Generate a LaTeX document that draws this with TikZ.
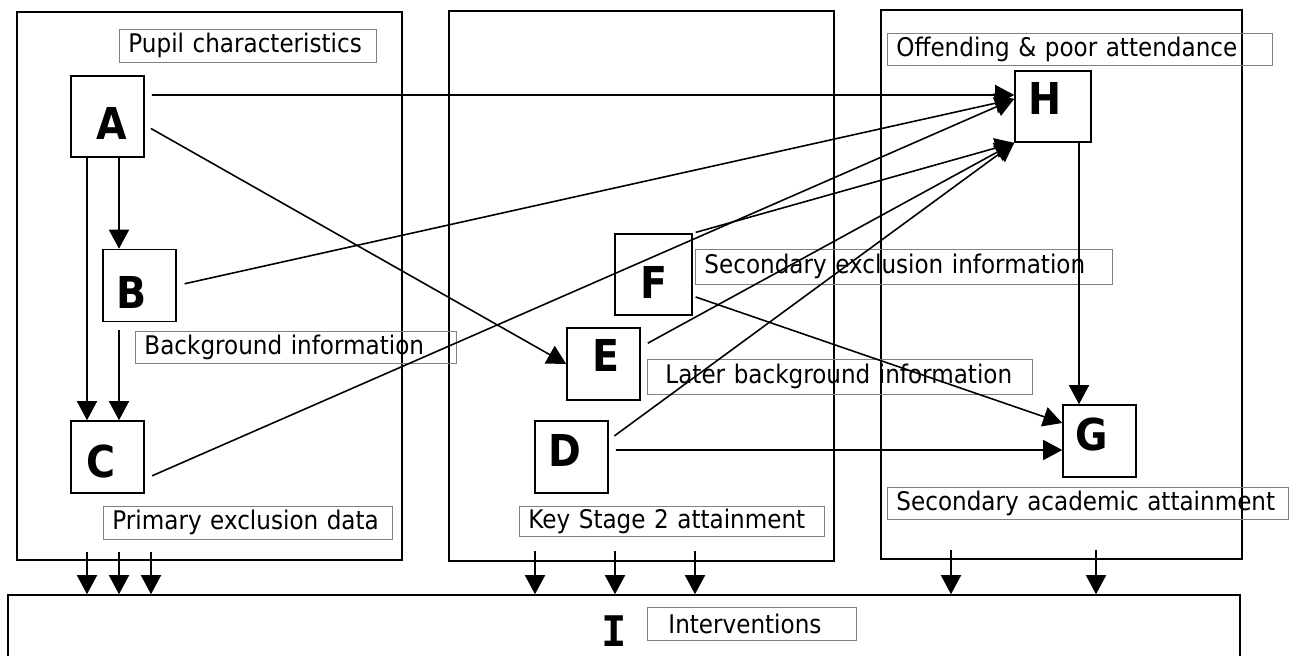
\documentclass[tikz,border=0pt]{standalone}
\usepackage{fontspec}
\setmainfont{DejaVu Sans}[FakeStretch=0.9]
\newfontfamily\slabfont{DejaVu Sans Mono}
\usetikzlibrary{arrows.meta}

% letter nudged inside its box: twice the x offset, then the raise
\newcommand{\letterat}[3]{\hspace*{#1}\raisebox{#2}[\height][\depth]{#3}}

\begin{document}
\begin{tikzpicture}[
  >={Triangle[length=3.8mm, width=4mm]},
  panel/.style={draw, line width=0.9pt, inner sep=0pt},
  var/.style={draw, line width=0.9pt, inner sep=0pt, minimum width=1.46cm, minimum height=1.44cm, font=\fontsize{25}{25}\selectfont\bfseries},
  tag/.style={draw=gray, line width=0.5pt, anchor=west, inner xsep=0.18cm, inner ysep=0pt, align=left, font=\fontsize{14.6}{17}\selectfont},
  link/.style={->, line width=0.9pt}
]
  \useasboundingbox (0,0) rectangle (25.84,-13.10);

  % the three stages and the interventions
  \node[panel, minimum width=7.70cm, minimum height=10.96cm] (pupil) at (4.19,-5.72) {};
  \node[panel, minimum width=7.70cm, minimum height=11.00cm] (ks2) at (12.83,-5.72) {};
  \node[panel, minimum width=7.22cm, minimum height=10.98cm] (sec) at (21.23,-5.69) {};
  \node[panel, minimum width=24.64cm, minimum height=2.50cm] (I) at (12.48,-13.15) {};
  \node[font=\slabfont\bfseries\fontsize{24}{24}\selectfont, inner sep=0pt] (Iname) at (12.28,-12.62) {I};

  % variables
  \node[var, minimum height=1.62cm] (A) at (2.15,-2.33) {\letterat{0.18cm}{-0.13cm}{A}};
  \node[var] (B) at (2.79,-5.71) {\letterat{-0.32cm}{-0.13cm}{B}};
  \node[var] (C) at (2.15,-9.14) {\letterat{-0.26cm}{-0.09cm}{C}};
  \node[var] (D) at (11.43,-9.14) {\letterat{-0.28cm}{0.14cm}{D}};
  \node[var] (E) at (12.07,-7.28) {\letterat{0.10cm}{0.17cm}{E}};
  \node[var, minimum width=1.54cm, minimum height=1.62cm] (F) at (13.07,-5.49) {\letterat{0cm}{-0.16cm}{F}};
  \node[var, minimum width=1.52cm, minimum height=1.42cm] (H) at (21.06,-2.13) {\letterat{-0.32cm}{0.17cm}{H}};
  \node[var] (G) at (21.99,-8.82) {\letterat{-0.30cm}{0.14cm}{G}};

  % captions
  \node[tag, text width=4.78cm, minimum height=0.66cm] (tpupil) at (2.38,-0.91) {Pupil characteristics};
  \node[tag, text width=6.06cm, minimum height=0.64cm] (tback) at (2.70,-6.94) {Background information};
  \node[tag, text width=5.42cm, minimum height=0.66cm] (tprim) at (2.06,-10.45) {Primary exclusion data};
  \node[tag, text width=5.74cm, minimum height=0.60cm] (tks2) at (10.38,-10.42) {Key Stage 2 attainment};
  \node[tag, text width=3.82cm, minimum height=0.66cm] (tint) at (12.94,-12.47) {\hspace*{0.24cm}Interventions};
  \node[tag, text width=7.34cm, minimum height=0.70cm] (tlater) at (12.94,-7.53) {\hspace*{0.18cm}Later background information};
  \node[tag, text width=7.98cm, minimum height=0.70cm] (tsecex) at (13.90,-5.33) {Secondary exclusion information};
  \node[tag, text width=7.34cm, minimum height=0.64cm] (toff) at (17.74,-0.98) {Offending \& poor attendance};
  \node[tag, text width=7.66cm, minimum height=0.64cm] (tsecat) at (17.74,-10.06) {Secondary academic attainment};

  % paths between the variables
  \path[every edge/.append style={link}]
  ([xshift=2.3mm]A.south) edge ([xshift=2.3mm]A.south |- B.north)
  ([xshift=-4.1mm]A.south) edge ([xshift=-4.1mm]A.south |- C.north)
  ([xshift=-4.1mm, yshift=-1.6mm]B.south) edge ([xshift=-4.1mm]B.south |- C.north)
  ([yshift=4.3mm]A.east) edge [shorten <=1.4mm] ([yshift=2.3mm]H.west)
  ([yshift=-1.7mm]A.east) edge [shorten <=1.4mm] (E.west)
  (B.east) edge [shorten <=1.6mm] ([yshift=1.5mm]H.west)
  ([yshift=-4.4mm]C.east) edge [shorten <=1.6mm] ([yshift=1.5mm]H.west)
  (F.north east) edge [shorten <=0.6mm] (H.south west)
  ([yshift=3.4mm]E.east) edge [shorten <=1.6mm] (H.south west)
  ([yshift=3.4mm]D.east) edge [shorten <=1.4mm] (H.south west)
  ([yshift=1.4mm]D.east) edge [shorten <=1.4mm] ([yshift=-1.8mm]G.west)
  ([yshift=-4.3mm]F.east) edge [shorten <=0.6mm] ([yshift=3.6mm]G.west)
  ([xshift=5.2mm]H.south) edge ([xshift=5.2mm]H.south |- G.north);

  % every stage feeds the interventions
  \path[every edge/.append style={link}]
  ([xshift=-24.5mm, yshift=1.8mm]pupil.south) edge ([xshift=-24.5mm]pupil.south |- I.north)
  ([xshift=-18.1mm, yshift=1.8mm]pupil.south) edge ([xshift=-18.1mm]pupil.south |- I.north)
  ([xshift=-11.7mm, yshift=1.8mm]pupil.south) edge ([xshift=-11.7mm]pupil.south |- I.north)
  ([xshift=-21.3mm, yshift=2.2mm]ks2.south) edge ([xshift=-21.3mm]ks2.south |- I.north)
  ([xshift=-5.3mm, yshift=2.2mm]ks2.south) edge ([xshift=-5.3mm]ks2.south |- I.north)
  ([xshift=10.7mm, yshift=2.2mm]ks2.south) edge ([xshift=10.7mm]ks2.south |- I.north)
  ([xshift=-22.1mm, yshift=2.0mm]sec.south) edge ([xshift=-22.1mm]sec.south |- I.north)
  ([xshift=6.9mm, yshift=2.0mm]sec.south) edge ([xshift=6.9mm]sec.south |- I.north);
\end{tikzpicture}
\end{document}
